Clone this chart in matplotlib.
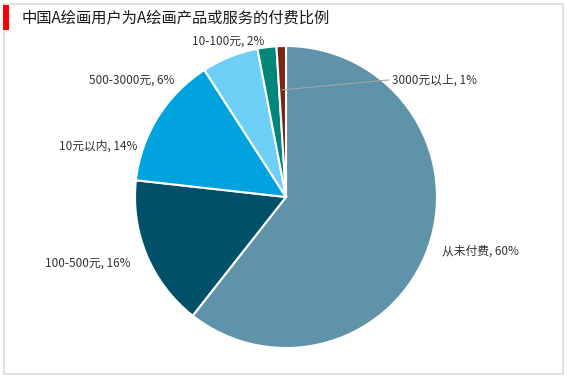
import matplotlib.pyplot as plt
from matplotlib.patches import Rectangle
import numpy as np

plt.rcParams['font.family'] = ['Noto Sans CJK SC', 'DejaVu Sans']

# data
labels = ['从未付费', '100-500元', '10元以内', '500-3000元', '10-100元', '3000元以上']
values = [60, 16, 14, 6, 2, 1]
colors = ['#5f93a9', '#00506a', '#00a3dd', '#6dcff6', '#00877a', '#7b2414']
title = '中国A绘画用户为A绘画产品或服务的付费比例'

# label anchor positions (pie radius = 1)
label_pos = [(1.03, -0.36), (-1.31, -0.44), (-1.245, 0.34),
             (-1.02, 0.775), (-0.38, 1.03), (0.70, 0.775)]
label_ha = ['left', 'center', 'center', 'center', 'center', 'left']

W, H = 567, 378
cx, cy, R = 286, 197, 151

fig = plt.figure(figsize=(W / 100, H / 100), dpi=100)
ax = fig.add_axes([0, 0, 1, 1])

wedges, _ = ax.pie(values, colors=colors, startangle=90, counterclock=False,
                   radius=1, wedgeprops=dict(edgecolor='white', linewidth=1.5))

# pie() resets the limits, so set them afterwards
ax.set_xlim(-cx / R, (W - cx) / R)
ax.set_ylim(-(H - cy) / R, cy / R)
ax.set_aspect('equal')
ax.axis('off')

for i, w in enumerate(wedges):
    txt = f'{labels[i]}, {values[i]}%'
    x, y = label_pos[i]
    ax.text(x, y, txt, ha=label_ha[i], va='center', fontsize=8.5, color='#333333')

# leader line for the tiny slice
w = wedges[-1]
mid = np.deg2rad((w.theta1 + w.theta2) / 2)
ax.plot([0.71 * np.cos(mid), label_pos[-1][0] - 0.02], [0.71 * np.sin(mid), label_pos[-1][1]],
        color='#a6a6a6', lw=0.8)

# frame, red marker and title
fig.patches.append(Rectangle((3.5 / W, 4.5 / H), 559 / W, 370 / H, transform=fig.transFigure,
                             fill=False, edgecolor='#dcdcdc', lw=1.2))
fig.patches.append(Rectangle((3 / W, 1 - 30 / H), 6 / W, 25 / H, transform=fig.transFigure,
                             facecolor='#ff0000', edgecolor='none'))
fig.text(22 / W, 1 - 18 / H, title, ha='left', va='center', fontsize=11, color='#1a1a1a')

fig.savefig('out.png', dpi=100)
